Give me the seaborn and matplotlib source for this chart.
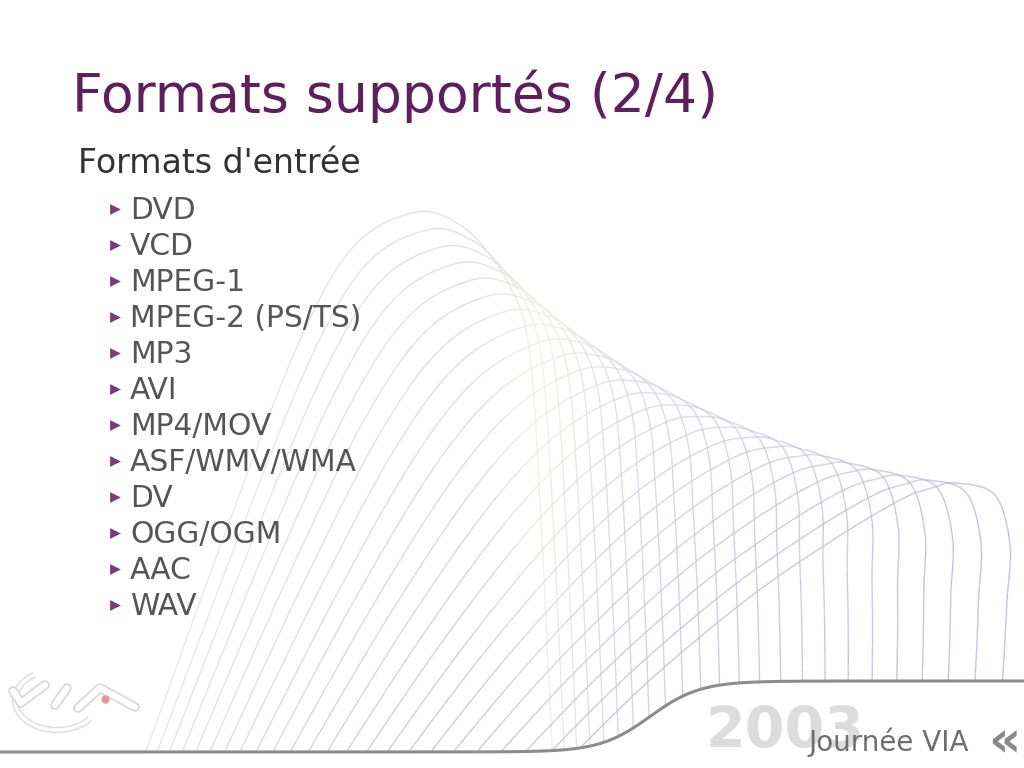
import numpy as np
import pandas as pd
import matplotlib
matplotlib.use("Agg")
import matplotlib.pyplot as plt
import matplotlib.patheffects as pe
from matplotlib.collections import LineCollection
from matplotlib.patches import Arc, Polygon
import seaborn as sns

# slide content
title = "Formats supportés (2/4)"
subtitle = "Formats d'entrée"
formats = ["DVD", "VCD", "MPEG-1", "MPEG-2 (PS/TS)", "MP3", "AVI", "MP4/MOV",
           "ASF/WMV/WMA", "DV", "OGG/OGM", "AAC", "WAV"]
year = "2003"
event = "Journée VIA"

# background wave (pixels, y down): first and last curling ridge
first_x = [140, 230, 300, 355, 417, 460, 490, 512, 526, 534, 541, 547, 553]
first_y = [768, 520, 340, 245, 212, 225, 255, 290, 330, 400, 520, 640, 768]
last_x = [560, 650, 750, 833, 900, 935, 957, 995, 1010, 1007, 1005, 1002, 998]
last_y = [768, 680, 597, 540, 500, 487, 483, 495, 545, 600, 640, 690, 768]
n_ridges = 24

# colour ramp of the mesh along x
ramp_x = [250, 470, 540, 620, 1000]
ramp_c = [(0.90, 0.90, 0.90), (0.85, 0.85, 0.89), (0.95, 0.94, 0.88),
          (0.85, 0.85, 0.90), (0.71, 0.71, 0.86)]

sns.set_theme(style="white")
plt.rcParams['font.family'] = ['DejaVu Sans']


def catmull(px, py, n=60):
    p = np.column_stack([px, py]).astype(float)
    p = np.vstack([p[0], p, p[-1]])
    out = []
    t = np.linspace(0, 1, n, endpoint=False)[:, None]
    for i in range(1, len(p) - 2):
        p0, p1, p2, p3 = p[i - 1], p[i], p[i + 1], p[i + 2]
        out.append(0.5 * ((2 * p1) + (-p0 + p2) * t + (2 * p0 - 5 * p1 + 4 * p2 - p3) * t ** 2
                          + (-p0 + 3 * p1 - 3 * p2 + p3) * t ** 3))
    out.append(p[-2][None, :])
    return np.vstack(out)


def seg_colors(seg, lav=0.0):
    xm = seg[:, :, 0].mean(axis=1)
    ym = seg[:, :, 1].mean(axis=1)
    c = np.column_stack([np.interp(xm, ramp_x, [cc[i] for cc in ramp_c]) for i in range(3)])
    w = lav * np.clip((ym - 430) / 320, 0, 1)[:, None]
    return c * (1 - w) + np.array([0.72, 0.72, 0.86]) * w


fig = plt.figure(figsize=(10.24, 7.68), dpi=100)
ax = fig.add_axes([0, 0, 1, 1])
ax.set_xlim(0, 1024)
ax.set_ylim(768, 0)

# grey baseline curve at the bottom; the mesh is only drawn above it
bx = np.linspace(0, 1024, 400)
by = 752 - 71 * (0.5 + 0.5 * np.tanh((bx - 650) / 50))
above = Polygon(np.column_stack([np.r_[bx, 1024, 0], np.r_[by, 0, 0]]),
                closed=True, transform=ax.transData)

fx, fy = np.array(first_x, float), np.array(first_y, float)
lx, ly = np.array(last_x, float), np.array(last_y, float)
for t in np.linspace(0, 1, n_ridges):
    a_x = 0.6 * t + 0.4 * t ** 2
    a_y = 1 - (1 - t) ** 1.4
    pts = catmull(fx + (lx - fx) * a_x, fy + (ly - fy) * a_y)
    seg = np.stack([pts[:-1], pts[1:]], axis=1)
    lc = LineCollection(seg, colors=seg_colors(seg, 0.8 * t), linewidths=0.95, zorder=1)
    ax.add_collection(lc)
    lc.set_clip_path(above)

ax.plot(bx, by, color="#8c8c8c", lw=2.2, zorder=3, solid_capstyle="butt")

# VIA logo, light embossed strokes
logo = pe.withStroke(linewidth=7, foreground="#d8d8d8")
ax.add_patch(Arc((57, 700), 84, 60, theta1=30, theta2=228, color="white",
                 lw=2.5, zorder=3, path_effects=[pe.withStroke(linewidth=4.5, foreground="#dcdcdc")]))
for sx, sy in [([13, 21, 45], [691, 703, 685]), ([55, 67], [705, 688]),
               ([78, 100, 135], [708, 688, 707])]:
    ax.plot(sx, sy, color="white", lw=4.5, solid_capstyle="round",
            solid_joinstyle="round", zorder=4, path_effects=[logo])
ax.scatter([105], [699], s=34, color="#e3959b", zorder=5, linewidth=0)

# texts
ax.text(72, 112, title, fontsize=38.6, color="#5f1f5c", va="baseline", zorder=6)
ax.text(78, 173, subtitle, fontsize=23.9, color="#333333", va="baseline", zorder=6)

base = 219
step = 36
bullets = pd.DataFrame({"x": [115] * len(formats),
                        "y": [base - 10 + step * i for i in range(len(formats))]})
sns.scatterplot(data=bullets, x="x", y="y", marker=">", s=60, color="#7b3b78",
                linewidth=0, ax=ax, zorder=6)
for i, f in enumerate(formats):
    ax.text(130, base + step * i, f, fontsize=21.4, color="#555555", va="baseline", zorder=6)

ax.text(706, 748, year, fontsize=41, fontweight="bold", color="#dcdcdc",
        va="baseline", zorder=5)
ax.text(808, 751, event, fontsize=20, color="#6e6e6e", va="baseline", zorder=6)
ax.text(988, 756, "«", fontsize=36, fontweight="bold", color="#8a8a8a",
        va="baseline", zorder=6)

ax.set_xlim(0, 1024)
ax.set_ylim(768, 0)
ax.axis("off")
fig.savefig("out.png", dpi=100, facecolor="white")
